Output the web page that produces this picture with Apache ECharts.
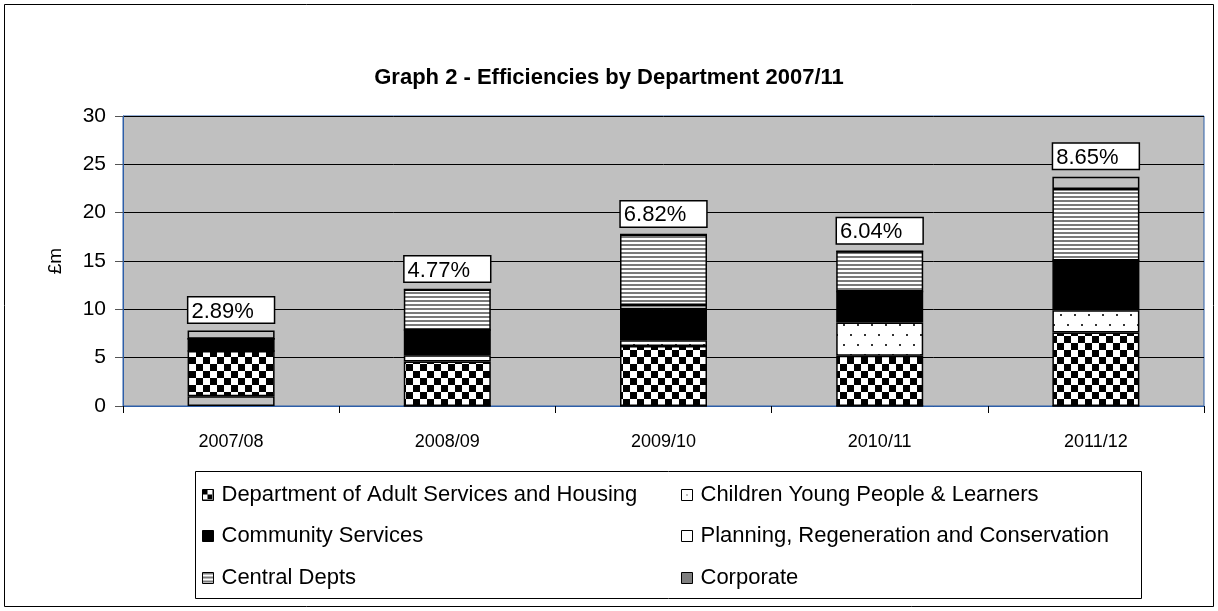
<!DOCTYPE html>
<html>
<head>
<meta charset="utf-8">
<script src="https://cdn.jsdelivr.net/npm/echarts@6/dist/echarts.min.js"></script>
<style>
html,body{margin:0;padding:0;background:#fff;}
#chart{width:1218px;height:611px;}
</style>
</head>
<body>
<div id="chart"></div>
<script>
// ---- data ----
const categories = ['2007/08', '2008/09', '2009/10', '2010/11', '2011/12'];
const otherVals  = [1.0, 0, 0, 0, 0];
const adult      = [4.7, 4.6, 6.2, 5.2, 7.6];
const children   = [0, 0.65, 0.6, 3.45, 2.3];
const community  = [1.25, 2.6, 3.2, 3.2, 5.15];
const planning   = [0, 0, 0.45, 0, 0];
const central    = [0, 4.2, 7.3, 4.15, 7.4];
const corporate  = [0.85, 0, 0, 0, 1.27];
const pctLabels  = ['2.89%', '4.77%', '6.82%', '6.04%', '8.65%'];
const seriesNames = ['Department of Adult Services and Housing', 'Children Young People & Learners',
  'Community Services', 'Planning, Regeneration and Conservation', 'Central Depts', 'Corporate'];
const yMin = 0, yMax = 30, yStep = 5;

// ---- patterns ----
function pattern(w, h, draw) {
  const c = document.createElement('canvas');
  c.width = w; c.height = h;
  const g = c.getContext('2d');
  draw(g);
  return { image: c, repeat: 'repeat' };
}
const checker = pattern(14, 14, g => {
  g.fillStyle = '#fff'; g.fillRect(0, 0, 14, 14);
  g.fillStyle = '#000'; g.fillRect(0, 0, 7, 7); g.fillRect(7, 7, 7, 7);
});
const checkerIcon = pattern(10, 10, g => {
  g.fillStyle = '#fff'; g.fillRect(0, 0, 10, 10);
  g.fillStyle = '#000'; g.fillRect(0, 0, 5, 5); g.fillRect(5, 5, 5, 5);
});
const dots = pattern(14, 20, g => {
  g.fillStyle = '#fff'; g.fillRect(0, 0, 14, 20);
  g.fillStyle = '#333'; g.fillRect(3, 4, 2, 2); g.fillRect(10, 14, 2, 2);
});
const dotIcon = pattern(11, 11, g => {
  g.fillStyle = '#fff'; g.fillRect(0, 0, 11, 11);
  g.fillStyle = '#000'; g.fillRect(5, 5, 1, 1);
});
const hstripes = pattern(4, 4, g => {
  g.fillStyle = '#fff'; g.fillRect(0, 0, 4, 4);
  g.fillStyle = '#7a7a7a'; g.fillRect(0, 0, 4, 2);
});
const vstripes = pattern(2, 2, g => {
  g.fillStyle = '#fff'; g.fillRect(0, 0, 2, 2);
  g.fillStyle = '#000'; g.fillRect(0, 0, 1, 2);
});

const FONT = 'Liberation Sans, Arial, sans-serif';
const fills = [checker, dots, '#000000', '#ffffff', hstripes, '#c0c0c0'];
const iconFills = [checkerIcon, dotIcon, '#000000', '#ffffff', hstripes, vstripes];
const values = [adult, children, community, planning, central, corporate];

const barBase = {
  type: 'bar', stack: 'total', barWidth: 87,
  itemStyle: { borderColor: '#000', borderWidth: 1.5 },
  emphasis: { disabled: true }
};

const series = [];
series.push(Object.assign({}, barBase, {
  name: 'other', data: otherVals,
  itemStyle: { color: '#c0c0c0', borderColor: '#000', borderWidth: 1.5 }
}));
seriesNames.forEach((n, i) => {
  series.push(Object.assign({}, barBase, {
    name: n, data: values[i],
    itemStyle: { color: fills[i], borderColor: '#000', borderWidth: 1.5 }
  }));
});
series.push({
  type: 'bar', stack: 'total', barWidth: 87, name: 'labels',
  data: categories.map(() => 0),
  itemStyle: { color: 'rgba(0,0,0,0)', borderWidth: 0 },
  emphasis: { disabled: true },
  label: {
    show: true, position: 'top', distance: 8,
    formatter: p => pctLabels[p.dataIndex],
    fontFamily: FONT, fontSize: 22, lineHeight: 22, color: '#000',
    backgroundColor: '#fff', borderColor: '#000', borderWidth: 1.5,
    padding: [3, 20, 0, 3]
  }
});

const legendPos = [[202, 484], [681, 484], [202, 525], [681, 525], [202, 567], [681, 567]];
const legends = seriesNames.map((n, i) => ({
  data: [{ name: n, icon: 'rect', itemStyle: { color: iconFills[i], borderColor: '#000', borderWidth: 1 } }],
  left: legendPos[i][0], top: legendPos[i][1], padding: 0,
  itemWidth: 11, itemHeight: 11, selectedMode: false,
  textStyle: { fontFamily: FONT, fontSize: 22, color: '#000', padding: [0, 0, 0, 3] }
}));

const chart = echarts.init(document.getElementById('chart'));
chart.setOption({
  animation: false,
  backgroundColor: '#fff',
  title: {
    text: 'Graph 2 - Efficiencies by Department 2007/11',
    left: 'center', top: 62,
    textStyle: { fontFamily: FONT, fontSize: 22, fontWeight: 'bold', color: '#000' }
  },
  legend: legends,
  grid: {
    left: 123, right: 14, top: 116, bottom: 205,
    show: true, backgroundColor: '#c0c0c0', borderColor: '#2d5ea8', borderWidth: 1
  },
  xAxis: {
    type: 'category', data: categories,
    axisLine: { lineStyle: { color: '#2d5ea8', width: 1 } },
    axisTick: { show: true, length: 7, lineStyle: { color: '#000' } },
    axisLabel: { fontFamily: FONT, fontSize: 18, color: '#000', margin: 27 }
  },
  yAxis: {
    type: 'value', min: yMin, max: yMax, interval: yStep,
    name: '£m', nameLocation: 'middle', nameGap: 58, nameRotate: 90,
    nameTextStyle: { fontFamily: FONT, fontSize: 19, color: '#000' },
    axisLine: { show: true, lineStyle: { color: '#2d5ea8', width: 1 } },
    axisTick: { show: true, inside: false, length: 8, lineStyle: { color: '#555' } },
    axisLabel: { fontFamily: FONT, fontSize: 21, color: '#000', margin: 17 },
    splitLine: { lineStyle: { color: '#000', width: 1 } }
  },
  graphic: [
    { type: 'rect', shape: { x: 4.5, y: 4.5, width: 1209, height: 602 },
      style: { fill: 'none', stroke: '#000', lineWidth: 1 }, silent: true, z: -10 },
    { type: 'rect', shape: { x: 195.5, y: 471.5, width: 946, height: 127 },
      style: { fill: 'none', stroke: '#000', lineWidth: 1 }, silent: true }
  ],
  series: series
});
</script>
</body>
</html>
